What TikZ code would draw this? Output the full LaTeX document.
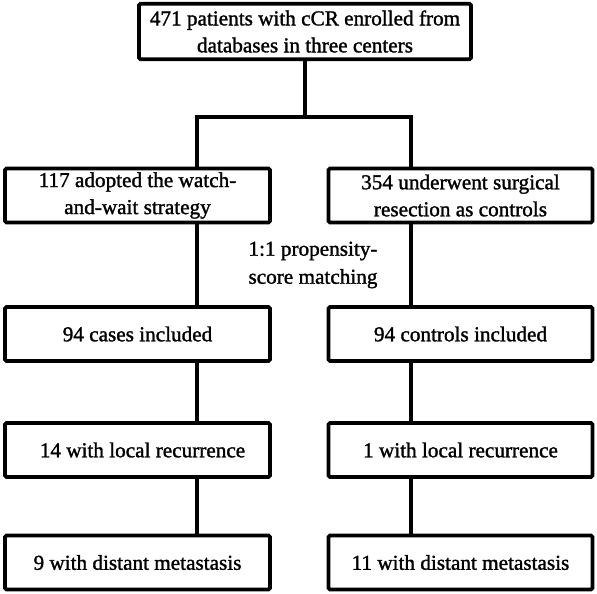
\documentclass[tikz,border=0pt]{standalone}
\usepackage{fontspec}
\setmainfont{Liberation Serif}
\newfontfamily\tnr[FakeBold=1.4]{Liberation Serif}
\begin{document}
\begin{tikzpicture}[x=1pt,y=-1pt,
  lw/.style={line width=3.6pt},
  box/.style={draw,lw,rounded corners=1.5pt,align=center,inner sep=0pt,
    font=\tnr\fontsize{21.2}{27}\selectfont},
  lbox/.style={box,minimum width=265pt,minimum height=54pt},
  rbox/.style={box,minimum width=264pt,minimum height=54pt},
  conn/.style={lw,line cap=rect},
  lab/.style={align=center,inner sep=0pt,font=\tnr\fontsize{21.2}{28}\selectfont}]
\useasboundingbox (0,0) rectangle (597,594);
\fill[white] (0,0) rectangle (597,594);

\node[box,minimum width=332pt,minimum height=55.5pt] (top) at (305,31.5)
  {471 patients with cCR enrolled from\\databases in three centers};

\node[lbox] (a2) at (137.5,195.5) {117 adopted the watch-\\and-wait strategy};
\node[rbox] (b2) at (460.5,195.5) {354 underwent surgical\\resection as controls};

\node[lbox] (a3) at (137.5,334) {94 cases included};
\node[rbox] (b3) at (460.5,334) {94 controls included};

\node[lbox] (a4) at (137.5,450) {\hspace{10pt}14 with local recurrence};
\node[rbox] (b4) at (460.5,450) {1 with local recurrence};

\node[lbox] (a5) at (137.5,562.5) {9 with distant metastasis};
\node[rbox] (b5) at (460.5,562.5) {11 with distant metastasis};

\node[lab] (psm) at (313,265) {1:1 propensity-\\score matching};

\coordinate (jc) at (305,117);
\coordinate (jl) at (197,117);
\coordinate (jr) at (411,117);

\draw[conn] (top.south) -- (jc);
\draw[conn] (jl) -- (jr);
\draw[lw] (jl) -- (jl |- a2.north);
\draw[lw] (jr) -- (jr |- b2.north);

\draw[lw] (a2.south -| jl) -- (a3.north -| jl);
\draw[lw] (b2.south -| jr) -- (b3.north -| jr);
\draw[lw] (a3.south -| jl) -- (a4.north -| jl);
\draw[lw] (b3.south -| jr) -- (b4.north -| jr);
\draw[lw] (a4.south -| jl) -- (a5.north -| jl);
\draw[lw] (b4.south -| jr) -- (b5.north -| jr);
\end{tikzpicture}
\end{document}
